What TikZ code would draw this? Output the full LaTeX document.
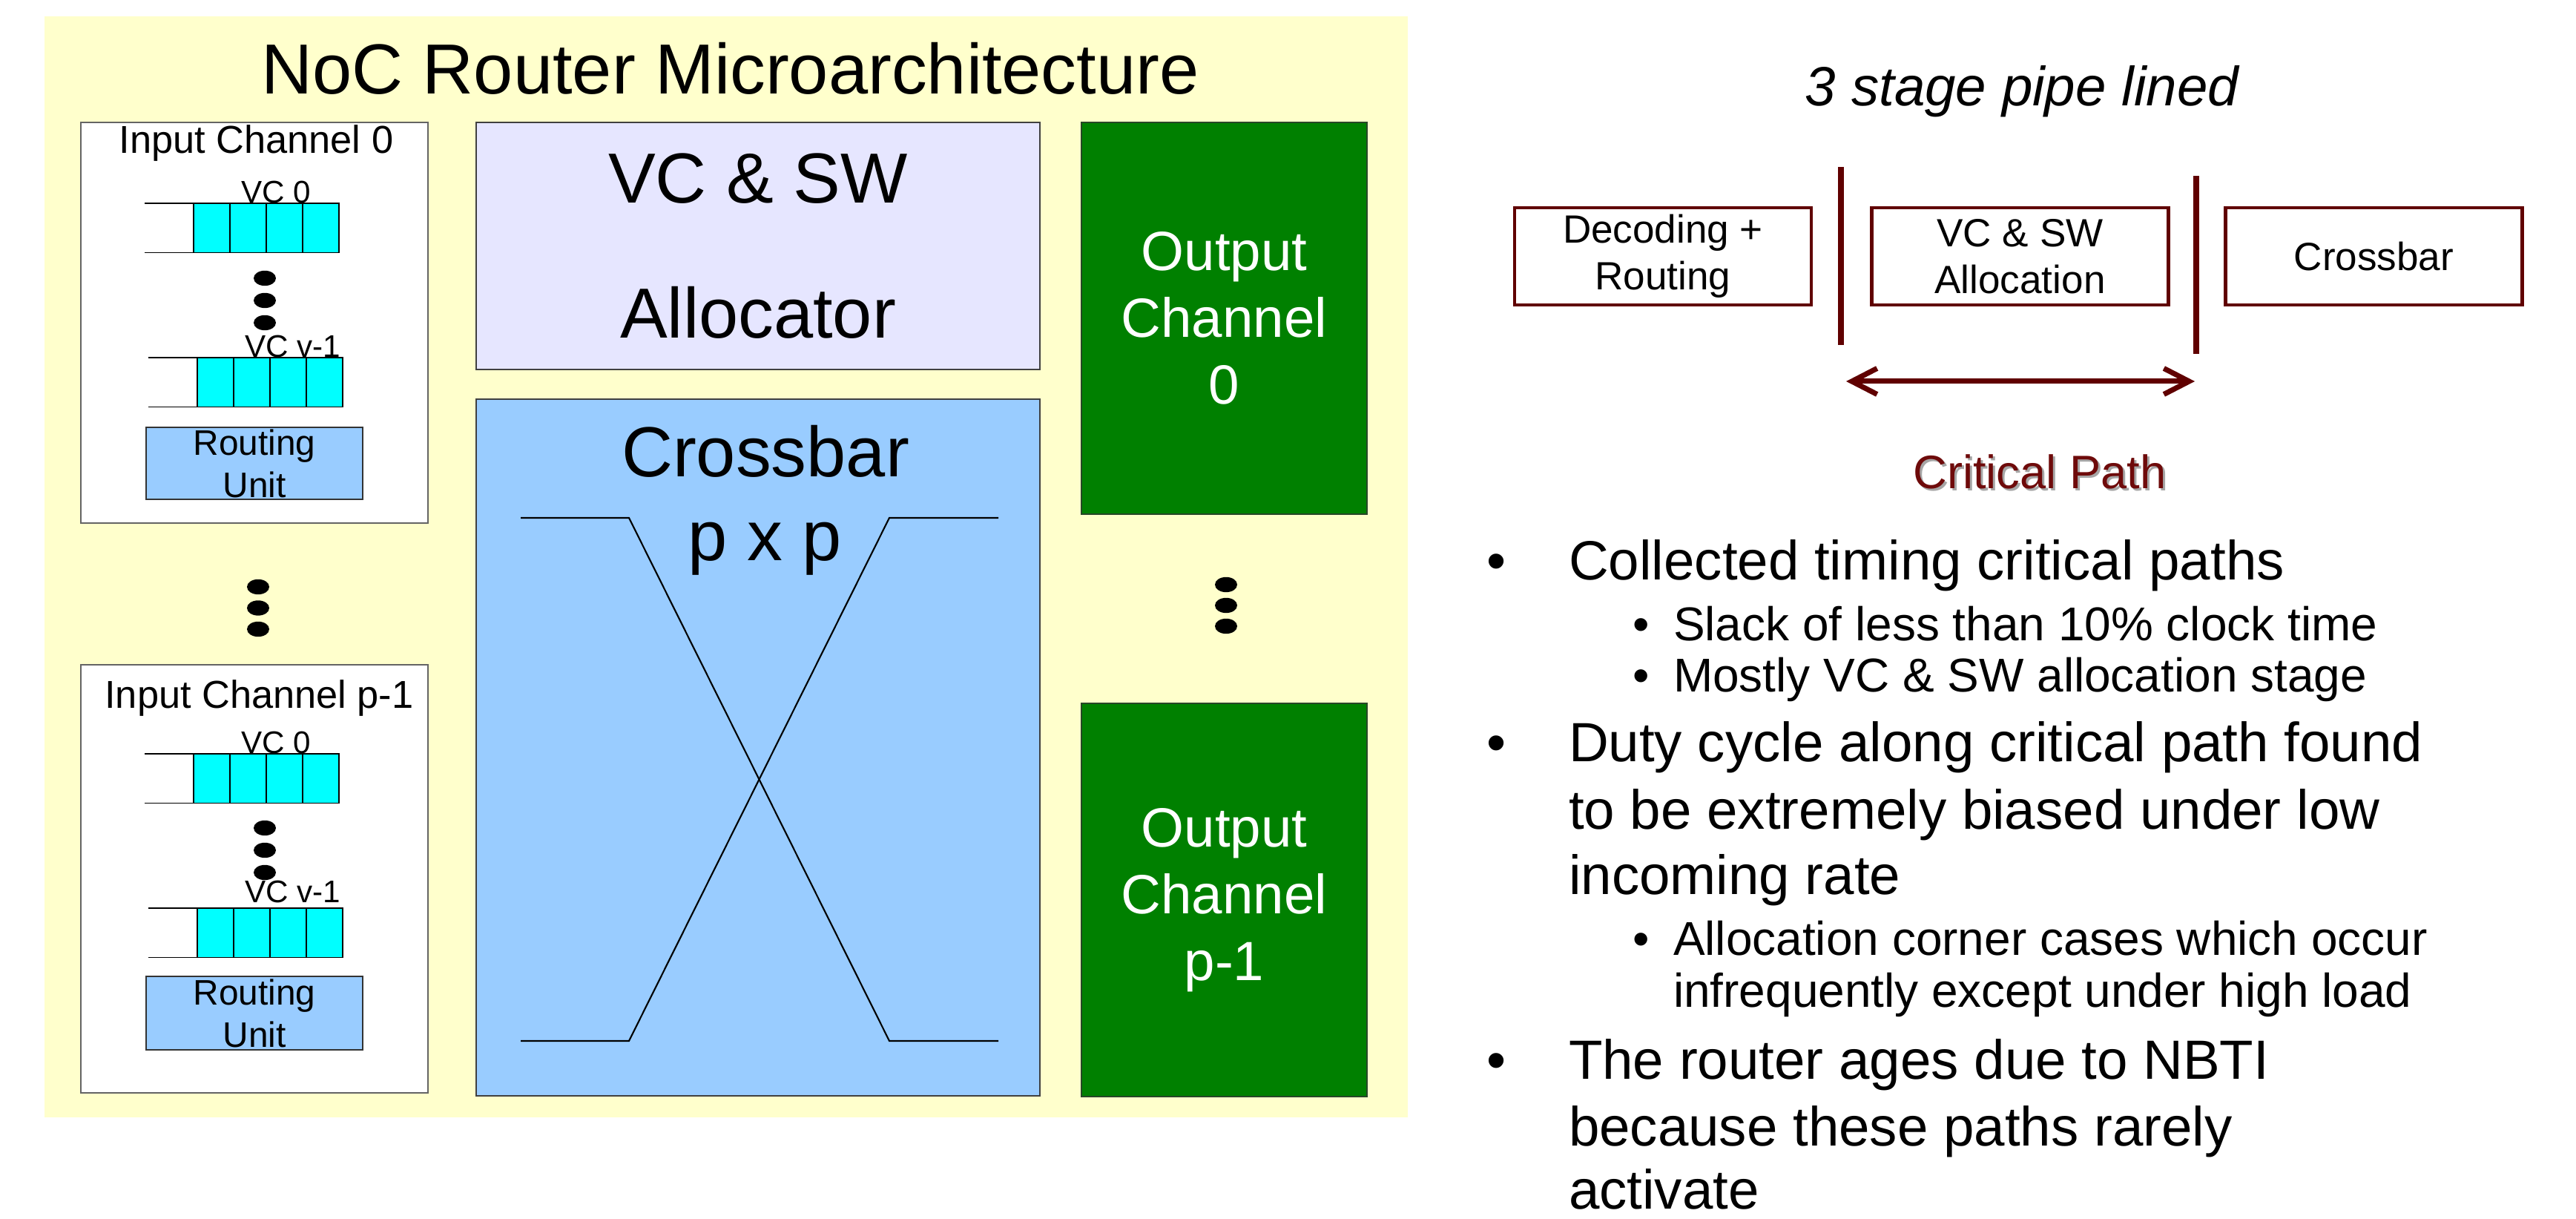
\documentclass[tikz,border=0pt]{standalone}
\usepackage{fontspec}
\setmainfont{Liberation Sans}
\usetikzlibrary{calc,positioning,arrows.meta,shapes}
\definecolor{nocyellow}{RGB}{255,255,204}
\definecolor{noclilac}{RGB}{230,230,255}
\definecolor{nocblue}{RGB}{153,204,255}
\definecolor{noccyan}{RGB}{0,255,255}
\definecolor{nocgreen}{RGB}{0,128,0}
\definecolor{nocgreenline}{RGB}{40,70,40}
\definecolor{stagered}{RGB}{96,0,0}
\definecolor{pathred}{RGB}{110,10,10}
\definecolor{framegray}{RGB}{100,100,100}

\newcommand{\setfs}[2]{\fontsize{#1}{#2}\selectfont}
\newcommand{\vcqueue}[2]{%
	\draw[cell] (#1,#2) -- ++(0.66,0) (#1,#2-0.665) -- ++(0.66,0);
	\foreach \k in {0,...,3}
		\draw[cell,fill=noccyan] (#1+0.66+\k*0.49,#2) rectangle ++(0.49,-0.665);
}
\newcommand{\dotcolumn}[3]{%
	\foreach \k in {0,1,2}
		\fill (#1,#2-\k*#3) ellipse (0.15 and 0.102);
}

\tikzset{
	every node/.style={inner sep=0pt, outer sep=0pt},
	cell/.style={draw=black, line width=0.45pt},
	chanbox/.style={draw=framegray, fill=white, line width=0.5pt, minimum width=4.68cm},
	routebox/.style={draw=black!80, fill=nocblue, line width=0.45pt, minimum width=2.92cm, align=center, font=\setfs{13.6}{16.2}},
	chanlabel/.style={anchor=base, font=\setfs{14.9}{18}},
	vclabel/.style={anchor=base, font=\setfs{12}{14}},
	blockbox/.style={draw=black!75, line width=0.45pt, minimum width=7.6cm},
	outbox/.style={draw=nocgreenline, fill=nocgreen, text=white, line width=0.45pt, minimum width=3.85cm, align=center, font=\setfs{21.2}{25.6}},
	stagebox/.style={draw=stagered, line width=1.3pt, minimum width=4cm, minimum height=1.31cm, align=center, font=\setfs{15.1}{17.9}},
	stagecut/.style={draw=stagered, line width=2.3pt},
	mainline/.style={anchor=base west, font=\setfs{21.2}{25.6}},
	subline/.style={anchor=base west, font=\setfs{18.2}{19.9}},
	bigbullet/.style={anchor=base, font=\setfs{21.2}{25.6}},
	smallbullet/.style={anchor=base, font=\setfs{18.2}{19.9}},
}

\begin{document}
\begin{tikzpicture}
	\useasboundingbox (0,0) rectangle (34.73,16.43);
	\fill[white] (0,0) rectangle (34.73,16.43);
	\fill[nocyellow] (0.60,1.37) rectangle (18.98,16.21);

	\node[anchor=base, font=\setfs{27.2}{32}] (title) at (9.845,15.16) {NoC Router Microarchitecture};

	\node[chanbox, minimum height=5.40cm] (in0) at (3.43,12.08) {};
	\node[chanlabel] (in0label) at (3.455,14.36) {Input Channel 0};
	\vcqueue{1.95}{13.69}
	\vcqueue{2.00}{11.61}
	\dotcolumn{3.57}{12.68}{0.30}
	\node[vclabel] (in0first) at (3.72,13.69) {VC 0};
	\node[vclabel] (in0last) at (3.95,11.61) {VC v-1};
	\node[routebox, minimum height=0.97cm] (in0route) at (3.43,10.185) {Routing\\Unit};

	\dotcolumn{3.48}{8.52}{0.285}

	\node[chanbox, minimum height=5.77cm] (inp) at (3.43,4.585) {};
	\node[chanlabel] (inplabel) at (3.495,6.88) {Input Channel p-1};
	\vcqueue{1.95}{6.27}
	\vcqueue{2.00}{4.19}
	\dotcolumn{3.57}{5.27}{0.30}
	\node[vclabel] (inpfirst) at (3.72,6.27) {VC 0};
	\node[vclabel] (inplast) at (3.95,4.26) {VC v-1};
	\node[routebox, minimum height=0.99cm] (inproute) at (3.43,2.775) {Routing\\Unit};

	\node[blockbox, fill=noclilac, minimum height=3.33cm, align=center, font=\setfs{27.2}{51.8}] (alloc) at (10.22,13.115) {VC \& SW\\Allocator};
	\node[blockbox, fill=nocblue, minimum height=9.39cm] (xbar) at (10.22,6.355) {};
	\node[anchor=base, font=\setfs{27.2}{32}] (xbarname) at (10.32,10.00) {Crossbar};
	\node[anchor=base, font=\setfs{27.2}{32}] (xbarsize) at (10.31,8.87) {p x p};
	\draw[line width=0.6pt] (7.02,9.45) -- (8.48,9.45) -- (11.99,2.40) -- (13.46,2.40);
	\draw[line width=0.6pt] (7.02,2.40) -- (8.48,2.40) -- (11.99,9.45) -- (13.46,9.45);

	\node[outbox, minimum height=5.28cm] (out0) at (16.505,12.14) {Output\\Channel\\0};
	\dotcolumn{16.53}{8.55}{0.28}
	\node[outbox, minimum height=5.30cm] (outp) at (16.505,4.30) {Output\\Channel\\p-1};

	\node[anchor=base, font=\setfs{21.2}{25.6}\itshape] (pipetitle) at (27.26,15.00) {3 stage pipe lined};
	\node[stagebox] (decode) at (22.42,12.975) {Decoding +\\Routing};
	\node[stagebox] (allocstage) at (27.235,12.975) {VC \& SW\\Allocation};
	\node[stagebox] (xbarstage) at (32.005,12.975) {Crossbar};
	\coordinate (cutA) at (24.82,14.18);
	\coordinate (cutB) at (29.61,14.06);
	\draw[stagecut] (cutA) -- ++(0,-2.40);
	\draw[stagecut] (cutB) -- ++(0,-2.40);
	\coordinate (critL) at (24.89,11.29);
	\coordinate (critR) at (29.59,11.29);
	\draw[stagecut, line width=2pt, line cap=round, {Straight Barb[length=3.4mm,width=3.5mm]}-{Straight Barb[length=3.4mm,width=3.5mm]}] (critL) -- (critR);
	\node[anchor=base, font=\setfs{18}{21}, text=black!35] (critshadow) at (27.53,9.81) {Critical Path};
	\node[anchor=base, font=\setfs{18}{21}, text=pathred] (crit) at (27.50,9.84) {Critical Path};

	\node[bigbullet] (dot1) at (20.18,8.61) {•};
	\node[mainline] (item1) at (21.15,8.61) {Collected timing critical paths};
	\node[smallbullet] (dot1a) at (22.13,7.79) {•};
	\node[subline] (item1a) at (22.56,7.79) {Slack of less than 10\% clock time};
	\node[smallbullet] (dot1b) at (22.13,7.10) {•};
	\node[subline] (item1b) at (22.56,7.10) {Mostly VC \& SW allocation stage};
	\node[bigbullet] (dot2) at (20.18,6.16) {•};
	\node[mainline] (item2) at (21.15,6.16) {Duty cycle along critical path found};
	\node[mainline] (item2b) at (21.15,5.25) {to be extremely biased under low};
	\node[mainline] (item2c) at (21.15,4.37) {incoming rate};
	\node[smallbullet] (dot2a) at (22.13,3.55) {•};
	\node[subline] (item2a) at (22.56,3.55) {Allocation corner cases which occur};
	\node[subline] (item2ab) at (22.56,2.85) {infrequently except under high load};
	\node[bigbullet] (dot3) at (20.18,1.88) {•};
	\node[mainline] (item3) at (21.15,1.88) {The router ages due to NBTI};
	\node[mainline] (item3b) at (21.15,0.98) {because these paths rarely};
	\node[mainline] (item3c) at (21.15,0.13) {activate};
\end{tikzpicture}
\end{document}
